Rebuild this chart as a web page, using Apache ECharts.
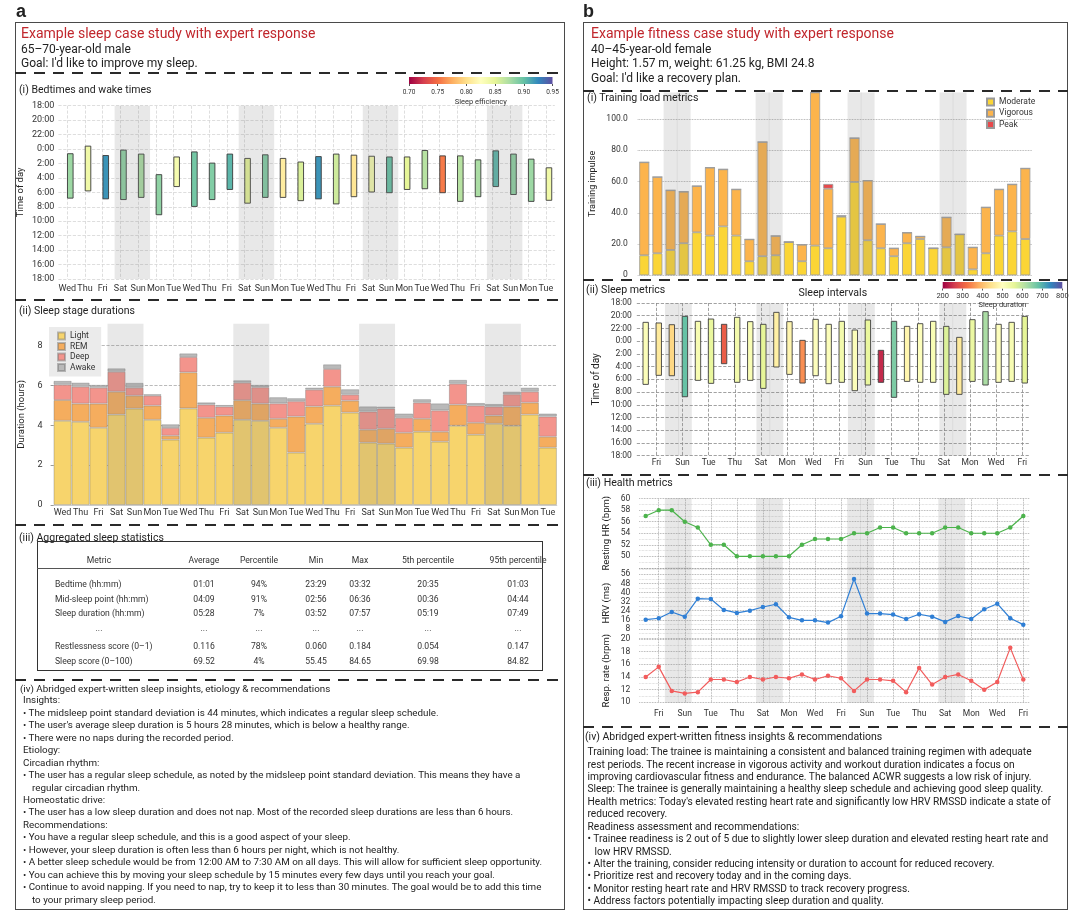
<!DOCTYPE html>
<html>
<head>
<meta charset="utf-8">
<title>Sleep and fitness case studies</title>
<script src="https://cdn.jsdelivr.net/npm/echarts@6/dist/echarts.min.js"></script>
<style>
  html, body { margin:0; padding:0; background:#fff; }
  body { width:1080px; height:917px; position:relative; overflow:hidden; font-family: Roboto, "Liberation Sans", Arial, sans-serif; color:#222; }
  #chart { position:absolute; left:0; top:0; width:1080px; height:917px; }
  .t { position:absolute; white-space:nowrap; line-height:1; }
  .box { position:absolute; border:1.2px solid #4a4a4a; box-sizing:border-box; }
  .dash { position:absolute; height:1.7px; background: repeating-linear-gradient(to right, #2a2a2a 0 11px, transparent 11px 19px); }
  .hline { position:absolute; height:1px; background:#555; }
</style>
</head>
<body>
<div id="chart"></div>
<div class="box" style="left:15px;top:22px;width:550px;height:888px"></div>
<div class="box" style="left:583px;top:22px;width:485px;height:888px"></div>
<div class="box" style="left:37px;top:541px;width:506px;height:130px;border-color:#333"></div>
<div class="hline" style="left:37px;top:568px;width:506px"></div>
<script>
// ================= DATA =================
// Panel a (i): bedtimes / wake times, hours relative to midnight
const daysA = ['Wed','Thu','Fri','Sat','Sun','Mon','Tue','Wed','Thu','Fri','Sat','Sun','Mon','Tue',
               'Wed','Thu','Fri','Sat','Sun','Mon','Tue','Wed','Thu','Fri','Sat','Sun','Mon','Tue'];
const bedtimeHours = [0.65,-0.4,0.9,0.15,0.7,3.55,1.1,0.4,1.95,0.7,1.3,0.8,1.3,1.8,
                      1.05,0.7,0.85,1.0,1.1,1.1,0.2,0.95,0.95,1.5,0.25,0.7,1.4,2.6];
const wakeHours = [6.8,5.8,6.9,7.0,6.7,9.1,5.2,7.95,7.0,5.6,7.5,6.7,6.7,7.15,
                   6.9,7.6,6.6,5.95,6.05,5.6,5.5,6.05,7.25,6.6,5.2,6.3,7.25,7.1];
const sleepEfficiency = [0.88,0.84,0.92,0.885,0.875,0.885,0.835,0.895,0.89,0.905,0.85,0.89,0.81,0.855,
                         0.92,0.86,0.805,0.835,0.9,0.85,0.87,0.755,0.87,0.875,0.905,0.885,0.88,0.84];
const weekendStartA = [3,10,17,24];

// Panel a (ii): sleep stage durations (hours)
const stageLight = [4.23,4.18,3.88,4.54,4.84,4.28,3.28,4.85,3.38,3.63,4.28,4.23,3.88,2.63,
                    4.08,4.99,4.64,3.13,3.08,2.88,3.68,3.18,3.98,3.53,4.08,3.98,4.54,2.88];
const stageREM = [1.04,0.91,1.21,1.15,0.65,0.71,0.20,1.81,1.00,0.86,0.98,0.86,0.45,1.81,
                  0.87,0.95,0.60,0.65,0.75,0.75,0.65,0.50,1.06,0.60,0.41,0.96,0.60,0.55];
const stageDeep = [0.77,0.85,0.80,1.00,0.40,0.50,0.39,0.77,0.66,0.45,0.88,0.82,0.77,0.77,
                   0.84,0.89,0.30,0.91,1.01,0.75,0.81,1.07,1.05,0.86,0.45,0.62,0.55,1.01];
const stageAwake = [0.19,0.20,0.14,0.17,0.24,0.07,0.18,0.18,0.11,0.08,0.12,0.12,0.31,0.15,
                    0.10,0.23,0.27,0.26,0.10,0.21,0.17,0.35,0.19,0.13,0.13,0.13,0.20,0.15];
const stageNames = ['Light','REM','Deep','Awake'];

// Panel a (iii): aggregated statistics table
const tableHeader = ['Metric','Average','Percentile','Min','Max','5th percentile','95th percentile'];
const tableRows = [
  ['Bedtime (hh:mm)','01:01','94%','23:29','03:32','20:35','01:03'],
  ['Mid-sleep point (hh:mm)','04:09','91%','02:56','06:36','00:36','04:44'],
  ['Sleep duration (hh:mm)','05:28','7%','03:52','07:57','05:19','07:49'],
  ['...','...','...','...','...','...','...'],
  ['Restlessness score (0\u20131)','0.116','78%','0.060','0.184','0.054','0.147'],
  ['Sleep score (0\u2013100)','69.52','4%','55.45','84.65','69.98','84.82']
];

// Panel b: 30 days
const daysB = ['Thu','Fri','Sat','Sun','Mon','Tue','Wed','Thu','Fri','Sat','Sun','Mon','Tue','Wed','Thu',
               'Fri','Sat','Sun','Mon','Tue','Wed','Thu','Fri','Sat','Sun','Mon','Tue','Wed','Thu','Fri'];
const weekendDaysB = [2,3,9,10,16,17,23,24];
// b (i) training impulse
const moderateLoad = [12.8,14.1,16.2,20.5,27.5,25.4,31.3,25.4,9.0,12.2,12.8,21.3,9.0,19.0,17.3,
                      37.5,59.7,22.4,17.3,12.2,20.5,23.2,17.3,17.9,26.2,3.8,14.1,25.4,28.1,23.2];
const vigorousLoad = [59.5,48.8,38.2,33.0,29.6,43.5,36.5,29.6,14.0,73.1,12.4,0,10.6,98.0,38.1,
                      0.5,28.1,38.2,15.5,5.1,6.8,1.7,0,19.2,0,14.1,29.4,29.6,30.1,45.2];
const peakLoad = [0,0,0,0,0,0,0,0,0,0,0,0,0,0,3.0,0,0,0,0,0,0,0,0,0,0,0,0,0,0,0];
const loadNames = ['Moderate','Vigorous','Peak'];
// b (ii) sleep intervals (hours relative to midnight) and sleep duration (minutes)
const sleepStartB = [-2.96,-2.86,-2.59,-3.90,-3.12,-3.48,-2.65,-3.75,-3.07,-2.65,-4.53,-3.07,-0.13,-3.43,-2.65,
                     -3.12,-1.75,-3.33,1.44,-3.12,-2.33,-2.75,-3.12,-2.33,-0.60,-3.38,-4.64,-2.65,-2.96,-3.90];
const sleepEndB = [6.79,5.37,5.43,8.73,6.16,6.63,3.54,6.47,6.16,7.42,4.06,5.22,6.58,5.43,6.68,
                   6.47,7.78,6.89,6.47,8.83,6.32,6.47,6.47,8.36,8.36,6.32,6.89,6.47,6.32,6.58];
const sleepDurationMin = [510,460,430,680,520,550,300,530,515,560,470,480,350,505,510,
                          530,510,550,240,660,480,505,515,570,460,545,620,505,520,560];
// b (iii) health metrics
const restingHR = [57,58,58,56,55,52,52,50,50,50,50,50,52,53,53,53,54,54,55,55,54,54,54,55,55,54,54,54,55,57];
const hrvMs = [16.2,17.4,22.9,18.8,34.6,34.3,24.7,22.1,24.1,27.3,29.7,18.2,15.6,15.6,13.6,
               19.1,51.9,21.5,21.5,20.6,16.8,20.9,18.8,14.2,19.4,16.8,25.3,30.2,17.4,11.8];
const respRate = [14.0,15.6,11.8,11.4,11.6,13.6,13.6,13.2,14.0,13.6,14.0,13.8,14.4,13.6,14.2,
                  13.8,11.8,13.6,13.6,13.4,11.6,15.4,12.8,14.0,14.4,13.4,12.0,13.2,18.6,13.6];

// ================= TEXT / FRAMES =================
const RED = '#c1272d';
function addText(x, cy, size, str, o) {
  o = o || {};
  const d = document.createElement('div');
  d.className = 't';
  d.textContent = str;
  d.style.left = x + 'px';
  d.style.top = (cy - size * 0.55) + 'px';
  d.style.fontSize = size + 'px';
  if (o.color) d.style.color = o.color;
  if (o.bold) d.style.fontWeight = 'bold';
  if (o.center) d.style.transform = 'translateX(-50%)';
  if (o.font) d.style.fontFamily = o.font;
  document.body.appendChild(d);
}
function addDash(x, y, w) {
  const d = document.createElement('div');
  d.className = 'dash';
  d.style.left = x + 'px'; d.style.top = y + 'px'; d.style.width = w + 'px';
  document.body.appendChild(d);
}
[72, 299, 524, 679].forEach(y => addDash(15, y, 550));
[90, 279, 474, 726].forEach(y => addDash(583, y, 485));

addText(16, 12, 18, 'a', {bold:true, font:'"Liberation Sans Narrow","Liberation Sans",Arial,sans-serif'});
addText(583, 12, 18, 'b', {bold:true, font:'"Liberation Sans Narrow","Liberation Sans",Arial,sans-serif'});

addText(21, 34, 14, 'Example sleep case study with expert response', {color:RED});
addText(21, 49.5, 12, '65\u201370-year-old male');
addText(21, 64, 12, "Goal: I'd like to improve my sleep.");
addText(19, 91, 10.5, '(i) Bedtimes and wake times');
addText(19, 312, 10.5, '(ii) Sleep stage durations');
addText(19, 539, 10.5, '(iii) Aggregated sleep statistics');
addText(20, 689, 9.8, '(iv) Abridged expert-written sleep insights, etiology & recommendations');

const tableColX = [99, 204, 259, 316, 360, 428, 518];
const tableRowY = [585, 599.5, 614, 629, 647, 661.5];
tableHeader.forEach((h, j) => addText(tableColX[j], 561, 8.6, h, {center:true, color:'#333'}));
tableRows.forEach((row, i) => row.forEach((c, j) => {
  if (j === 0 && c !== '...') addText(55, tableRowY[i], 8.6, c, {color:'#333'});
  else addText(tableColX[j], tableRowY[i], 8.6, c, {center:true, color:'#333'});
}));

const sleepNotes = [
  [23, 'Insights:'],
  [23, '\u2022 The midsleep point standard deviation is 44 minutes, which indicates a regular sleep schedule.'],
  [23, "\u2022 The user's average sleep duration is 5 hours 28 minutes, which is below a healthy range."],
  [23, '\u2022 There were no naps during the recorded period.'],
  [23, 'Etiology:'],
  [23, 'Circadian rhythm:'],
  [23, '\u2022 The user has a regular sleep schedule, as noted by the midsleep point standard deviation. This means they have a'],
  [32, 'regular circadian rhythm.'],
  [23, 'Homeostatic drive:'],
  [23, '\u2022 The user has a low sleep duration and does not nap. Most of the recorded sleep durations are less than 6 hours.'],
  [23, 'Recommendations:'],
  [23, '\u2022 You have a regular sleep schedule, and this is a good aspect of your sleep.'],
  [23, '\u2022 However, your sleep duration is often less than 6 hours per night, which is not healthy.'],
  [23, '\u2022 A better sleep schedule would be from 12:00 AM to 7:30 AM on all days. This will allow for sufficient sleep opportunity.'],
  [23, '\u2022 You can achieve this by moving your sleep schedule by 15 minutes every few days until you reach your goal.'],
  [23, '\u2022 Continue to avoid napping. If you need to nap, try to keep it to less than 30 minutes. The goal would be to add this time'],
  [32, 'to your primary sleep period.']
];
sleepNotes.forEach((l, i) => addText(l[0], 700.8 + i * 12.45, 9.8, l[1]));

addText(591, 34, 14, 'Example fitness case study with expert response', {color:RED});
addText(591, 49.5, 12, '40\u201345-year-old female');
addText(591, 64, 12, 'Height: 1.57 m, weight: 61.25 kg, BMI 24.8');
addText(591, 78.5, 12, "Goal: I'd like a recovery plan.");
addText(587, 99, 10.6, '(i) Training load metrics');
addText(586, 290.5, 10.6, '(ii) Sleep metrics');
addText(832.8, 293.5, 10.6, 'Sleep intervals', {center:true});
addText(586, 484, 10.6, '(iii) Health metrics');
addText(585, 737.5, 10.5, '(iv) Abridged expert-written fitness insights & recommendations');

const fitnessNotes = [
  [587.5, 'Training load: The trainee is maintaining a consistent and balanced training regimen with adequate'],
  [587.5, 'rest periods. The recent increase in vigorous activity and workout duration indicates a focus on'],
  [587.5, 'improving cardiovascular fitness and endurance. The balanced ACWR suggests a low risk of injury.'],
  [587.5, 'Sleep: The trainee is generally maintaining a healthy sleep schedule and achieving good sleep quality.'],
  [587.5, "Health metrics: Today's elevated resting heart rate and significantly low HRV RMSSD indicate a state of"],
  [587.5, 'reduced recovery.'],
  [587.5, 'Readiness assessment and recommendations:'],
  [587.5, '\u2022 Trainee readiness is 2 out of 5 due to slightly lower sleep duration and elevated resting heart rate and'],
  [594.5, 'low HRV RMSSD.'],
  [587.5, '\u2022 Alter the training, consider reducing intensity or duration to account for reduced recovery.'],
  [587.5, '\u2022 Prioritize rest and recovery today and in the coming days.'],
  [587.5, '\u2022 Monitor resting heart rate and HRV RMSSD to track recovery progress.'],
  [587.5, '\u2022 Address factors potentially impacting sleep duration and quality.']
];
fitnessNotes.forEach((l, i) => addText(l[0], 752.7 + i * 12.44, 10.2, l[1]));

// ================= CHART =================
const spectral = ['#9e0142','#d53e4f','#f46d43','#fdae61','#fee08b','#ffffbf','#e6f598','#abdda4','#66c2a5','#3288bd','#5e4fa2'];
const SHADE = 'rgba(128,128,128,0.18)';
const LABEL = '#333';
const timeLabel = v => ((18 + v) % 24) + ':00';
const oddOnly = i => i % 2 === 1;

function pairShade(offsetFrac) {
  return function (params, api) {
    const cs = params.coordSys;
    const bw = api.size([1, 0])[0];
    const i = api.value(0);
    const x0 = api.coord([i, 0])[0] + (offsetFrac - 0.5) * bw;
    const x1 = api.coord([i + 1, 0])[0] + (offsetFrac + 0.5) * bw;
    return {type:'rect', shape:{x:x0, y:cs.y, width:x1 - x0, height:cs.height}, style:{fill:SHADE}};
  };
}
function dayShade(offsetFrac, ext) {
  return function (params, api) {
    const cs = params.coordSys;
    const bw = api.size([1, 0])[0];
    const xc = api.coord([api.value(0), 0])[0] + offsetFrac * bw;
    return {type:'rect', shape:{x:xc - bw / 2 - 0.35, y:cs.y - ext, width:bw + 0.7, height:cs.height + 2 * ext}, style:{fill:SHADE}};
  };
}
function floatBar(offsetFrac, w, stroke) {
  return function (params, api) {
    const bw = api.size([1, 0])[0];
    const x = api.value(0);
    const p0 = api.coord([x, api.value(1)]);
    const p1 = api.coord([x, api.value(2)]);
    const xc = p0[0] + offsetFrac * bw;
    return {type:'rect', shape:{x:xc - w / 2, y:Math.min(p0[1], p1[1]), width:w, height:Math.abs(p1[1] - p0[1])},
            style:{fill:api.visual('color'), stroke:stroke, lineWidth:0.9}};
  };
}
function colorBar(params, api) {
  const cs = params.coordSys;
  const p0 = api.coord([api.value(0), 0]);
  const p1 = api.coord([api.value(2), 0]);
  return {type:'rect', shape:{x:p0[0], y:cs.y, width:p1[0] - p0[0], height:cs.height},
          style:{fill:new echarts.graphic.LinearGradient(0, 0, 1, 0,
            spectral.map((c, k) => ({offset:k / (spectral.length - 1), color:c})))}};
}

const grids = [
  {left:58.4, top:105.7, width:496.4, height:173.3},   // a(i)
  {left:53.6, top:323.8, width:503.2, height:181.2},   // a(ii)
  {left:409, top:77, width:143.5, height:7},           // colorbar a
  {left:637.7, top:92.4, width:394.2, height:182.9},   // b(i)
  {left:636.8, top:303, width:392.1, height:152.7},    // b(ii)
  {left:942.7, top:282, width:119.6, height:6.5},      // colorbar b
  {left:639.2, top:498.7, width:390.6, height:69.1},   // HR
  {left:639.2, top:568, width:390.6, height:70.1},     // HRV
  {left:639.2, top:639, width:390.6, height:63.3}      // resp
];

const hidden = {show:false};
const xAxis = [
  {gridIndex:0, type:'category', data:daysA, axisLine:hidden, axisTick:hidden,
   axisLabel:{interval:0, fontSize:9, color:LABEL, margin:5},
   splitLine:{show:true, interval:0, alignWithLabel:true, lineStyle:{type:'dashed', color:'#d6d6d6', width:0.8}}},
  {gridIndex:1, type:'category', data:daysA, axisLine:{show:true, lineStyle:{color:'#cfcfcf'}}, axisTick:hidden,
   axisLabel:{interval:0, fontSize:9, color:LABEL, margin:3}},
  {gridIndex:2, type:'value', min:0.70, max:0.95, interval:0.05, axisLine:hidden,
   axisTick:{show:true, length:2, lineStyle:{color:'#555'}}, splitLine:hidden,
   axisLabel:{fontSize:6.5, color:LABEL, margin:5, formatter:v => v.toFixed(2)},
   name:'Sleep efficiency', nameLocation:'middle', nameGap:14, nameTextStyle:{fontSize:7.5, color:LABEL}},
  {gridIndex:3, type:'category', data:daysB, axisLine:hidden, axisTick:hidden, axisLabel:hidden},
  {gridIndex:4, type:'category', data:daysB, axisLine:hidden, axisTick:hidden,
   axisLabel:{interval:oddOnly, fontSize:8.5, color:LABEL, margin:3},
   splitLine:{show:true, interval:oddOnly, alignWithLabel:true, lineStyle:{type:'dashed', color:'#8a8a8a', width:0.8}}},
  {gridIndex:5, type:'value', min:200, max:800, interval:100, axisLine:hidden,
   axisTick:{show:true, length:2, lineStyle:{color:'#555'}}, splitLine:hidden,
   axisLabel:{fontSize:7.5, color:LABEL, margin:4},
   name:'Sleep duration', nameLocation:'middle', nameGap:13, nameTextStyle:{fontSize:7.5, color:LABEL}}
];
[6, 7, 8].forEach(g => xAxis.push({
  gridIndex:g, type:'category', data:daysB, axisLine:hidden, axisTick:hidden,
  axisLabel:{show:g === 8, interval:oddOnly, fontSize:8.5, color:LABEL, margin:7},
  splitLine:{show:true, interval:oddOnly, alignWithLabel:true, lineStyle:{type:'dotted', color:'#9a9a9a', width:0.8}}
}));

const healthY = (g, min, max, interval, name, extra) => Object.assign({
  gridIndex:g, type:'value', min:min, max:max, interval:interval, axisLine:hidden, axisTick:hidden,
  axisLabel:{fontSize:8.5, color:LABEL, margin:9},
  splitLine:{show:true, lineStyle:{type:'dotted', color:'#9a9a9a', width:0.8}},
  minorTick:{show:false, splitNumber:2},
  minorSplitLine:{show:true, lineStyle:{type:'dotted', color:'#c8c8c8', width:0.7}},
  name:name, nameLocation:'middle', nameGap:28, nameTextStyle:{fontSize:9.5, color:'#222'}
}, extra || {});

const yAxis = [
  {gridIndex:0, type:'value', min:0, max:24, interval:2, inverse:true, axisLine:hidden, axisTick:hidden,
   axisLabel:{fontSize:9, color:LABEL, margin:4, formatter:timeLabel},
   splitLine:{show:true, lineStyle:{type:'dashed', color:'#d6d6d6', width:0.8}},
   name:'Time of day', nameLocation:'middle', nameGap:33, nameTextStyle:{fontSize:9.5, color:'#222'}},
  {gridIndex:1, type:'value', min:0, max:9.1, interval:2, axisLine:hidden,
   axisTick:{show:true, length:3, lineStyle:{color:'#999'}},
   axisLabel:{fontSize:9, color:LABEL, margin:11, showMaxLabel:false},
   splitLine:{show:true, showMinLine:false, showMaxLine:false, lineStyle:{type:'dashed', color:'#a8a8a8', width:0.8}},
   name:'Duration (hours)', nameLocation:'middle', nameGap:27, nameTextStyle:{fontSize:9.5, color:'#222'}},
  {gridIndex:2, type:'value', min:0, max:1, show:false},
  {gridIndex:3, type:'value', min:0, max:117, interval:20, axisLine:hidden, axisTick:hidden,
   axisLabel:{fontSize:8.5, color:LABEL, margin:10, showMaxLabel:false, formatter:v => v === 0 ? '0' : v.toFixed(1)},
   splitLine:{show:true, showMaxLine:false, lineStyle:{type:'dotted', color:'#999', width:0.8}},
   name:'Training impulse', nameLocation:'middle', nameGap:40, nameTextStyle:{fontSize:9, color:'#222'}},
  {gridIndex:4, type:'value', min:0, max:24, interval:2, inverse:true, axisLine:hidden, axisTick:hidden,
   axisLabel:{fontSize:8.5, color:LABEL, margin:5, formatter:timeLabel},
   splitLine:{show:true, lineStyle:{type:'dashed', color:'#8a8a8a', width:0.8}},
   name:'Time of day', nameLocation:'middle', nameGap:35, nameTextStyle:{fontSize:10, color:'#222'}},
  {gridIndex:5, type:'value', min:0, max:1, show:false},
  healthY(6, 48, 60, 2, 'Resting HR (bpm)', {axisLabel:{fontSize:8.5, color:LABEL, margin:9, showMinLabel:false}}),
  healthY(7, 0, 61.5, 8, 'HRV (ms)', {axisLabel:{fontSize:8.5, color:LABEL, margin:9, showMinLabel:false, showMaxLabel:false}}),
  healthY(8, 10, 20, 2, 'Resp. rate (brpm)')
];

const series = [];
// a(i)
series.push({type:'custom', name:'a weekend', xAxisIndex:0, yAxisIndex:0, z:6, silent:true,
  renderItem:pairShade(0.17), data:weekendStartA.map(i => [i, 0])});
const sIdxEff = series.length;
series.push({type:'custom', name:'Sleep window', xAxisIndex:0, yAxisIndex:0, z:3,
  renderItem:floatBar(0.17, 5.6, '#3a3a3a'), dimensions:['day','bed','wake','eff'], encode:{x:0, y:[1,2]},
  data:daysA.map((d, i) => [i, bedtimeHours[i] + 6, wakeHours[i] + 6, sleepEfficiency[i]])});
// a(ii)
const stageColors = ['#f7d46c','#f5ad5e','#f3948c','#b9b9b9'];
[stageLight, stageREM, stageDeep, stageAwake].forEach((arr, k) => series.push({
  type:'bar', name:stageNames[k], xAxisIndex:1, yAxisIndex:1, stack:'stages', barCategoryGap:'0%', z:2,
  data:arr, itemStyle:{color:stageColors[k], borderColor:'rgba(110,110,110,0.45)', borderWidth:0.8}
}));
series.push({type:'custom', name:'a2 weekend', xAxisIndex:1, yAxisIndex:1, z:6, silent:true,
  renderItem:pairShade(0), data:weekendStartA.map(i => [i, 0])});
// colorbar a
series.push({type:'custom', name:'efficiency scale', xAxisIndex:2, yAxisIndex:2, silent:true,
  renderItem:colorBar, encode:{x:[0,2], y:1}, data:[[0.70, 0, 0.95]]});
// b(i)
const loadColors = ['#fbd536','#fcb44c','#e8494b'];
[moderateLoad, vigorousLoad, peakLoad].forEach((arr, k) => series.push({
  type:'bar', name:loadNames[k], xAxisIndex:3, yAxisIndex:3, stack:'load', barWidth:10, z:2,
  data:arr, itemStyle:{color:loadColors[k], borderColor:'#9a9a9a', borderWidth:0.8}
}));
series.push({type:'custom', name:'b1 weekend', xAxisIndex:3, yAxisIndex:3, z:6, silent:true,
  renderItem:dayShade(0, 0), data:weekendDaysB.map(i => [i, 0])});
// b(ii)
series.push({type:'custom', name:'b2 weekend', xAxisIndex:4, yAxisIndex:4, z:1, silent:true,
  renderItem:dayShade(0.18, 0), data:weekendDaysB.map(i => [i, 0])});
const sIdxDur = series.length;
series.push({type:'custom', name:'Sleep interval', xAxisIndex:4, yAxisIndex:4, z:3,
  renderItem:floatBar(0.18, 5.4, '#404040'), dimensions:['day','start','end','dur'], encode:{x:0, y:[1,2]},
  data:daysB.map((d, i) => [i, sleepStartB[i] + 6, sleepEndB[i] + 6, sleepDurationMin[i]])});
// colorbar b
series.push({type:'custom', name:'duration scale', xAxisIndex:5, yAxisIndex:5, silent:true,
  renderItem:colorBar, encode:{x:[0,2], y:1}, data:[[200, 0, 800]]});
// b(iii)
const health = [[restingHR, '#4cb34c', 'Resting HR'], [hrvMs, '#2f7fd5', 'HRV'], [respRate, '#f25c5c', 'Resp. rate']];
health.forEach((h, k) => {
  const g = 6 + k;
  series.push({type:'custom', name:'b3 weekend ' + k, xAxisIndex:g, yAxisIndex:g, z:1, silent:true,
    renderItem:dayShade(0, 0.6), data:weekendDaysB.map(i => [i, 0])});
  series.push({type:'line', name:h[2], xAxisIndex:g, yAxisIndex:g, z:3, data:h[0],
    symbol:'circle', symbolSize:4.5, lineStyle:{width:1.2, color:h[1]}, itemStyle:{color:h[1]}});
});

const option = {
  animation:false,
  textStyle:{fontFamily:'Roboto, "Liberation Sans", Arial, sans-serif'},
  grid:grids,
  xAxis:xAxis,
  yAxis:yAxis,
  legend:[
    {data:stageNames, orient:'vertical', left:49, top:327, icon:'rect', itemWidth:7, itemHeight:7, itemGap:0.5,
     padding:[4,6,4,8], backgroundColor:'#ebebeb', selectedMode:false,
     textStyle:{fontSize:8.5, color:'#333', lineHeight:10}},
    {data:loadNames, orient:'vertical', left:986, top:97, icon:'rect', itemWidth:7, itemHeight:7, itemGap:1.3,
     padding:[0,0,0,0], selectedMode:false, textStyle:{fontSize:8.5, color:'#333', lineHeight:10}}
  ],
  visualMap:[
    {type:'continuous', show:false, seriesIndex:sIdxEff, dimension:3, min:0.70, max:0.95, inRange:{color:spectral}},
    {type:'continuous', show:false, seriesIndex:sIdxDur, dimension:3, min:200, max:800, inRange:{color:spectral}}
  ],
  series:series
};
const chart = echarts.init(document.getElementById('chart'), null, {renderer:'canvas'});
chart.setOption(option);
</script>
</body>
</html>
